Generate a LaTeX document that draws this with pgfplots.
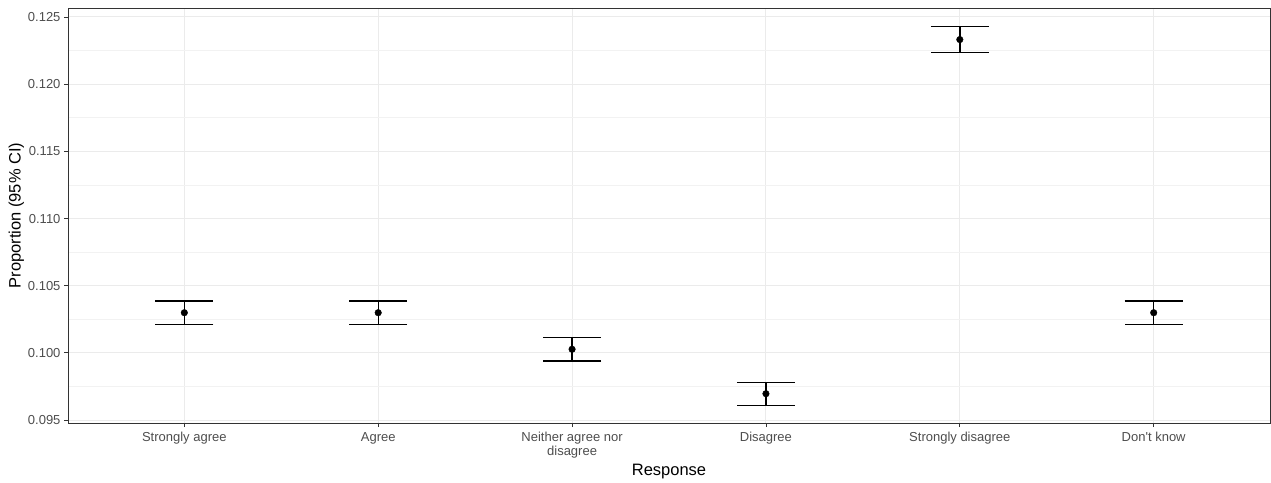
\documentclass[border=0pt]{standalone}
\usepackage{fontspec}
\setmainfont{Liberation Sans}[Ligatures=TeXOff]
\usepackage{pgfplots}
\pgfplotsset{compat=1.18}
\definecolor{gridc}{HTML}{EBEBEB}
\definecolor{gminor}{HTML}{F2F2F2}
\definecolor{framec}{HTML}{333333}
\definecolor{tickc}{HTML}{4D4D4D}
\begin{document}
\begin{tikzpicture}
\begin{axis}[
  scale only axis,
  width=1202pt, height=415pt,
  xmin=-0.6, xmax=5.6,
  ymin=0.09478, ymax=0.12567,
  xtick={0,1,2,3,4,5},
  xticklabels={Strongly agree, Agree, {Neither agree nor\\disagree}, Disagree, Strongly disagree, Don't know},
  x tick label style={align=center, font=\fontsize{13}{13.5}\selectfont, text=tickc, yshift=-2pt},
  ytick={0.095,0.100,0.105,0.110,0.115,0.120,0.125},
  yticklabels={0.095,0.100,0.105,0.110,0.115,0.120,0.125},
  minor ytick={0.0975,0.1025,0.1075,0.1125,0.1175,0.1225},
  y tick label style={font=\fontsize{13}{14}\selectfont, text=tickc},
  /pgf/number format/assume math mode=true,
  tick align=outside,
  major tick length=4pt,
  minor tick length=0pt,
  tick style={framec, line width=0.8pt},
  xtick pos=bottom, ytick pos=left,
  grid=major,
  major grid style={gridc, line width=1pt},
  minor grid style={gminor, line width=0.6pt},
  ymajorgrids, xmajorgrids, yminorgrids,
  axis line style={framec, line width=0.8pt},
  xlabel={Response},
  ylabel={Proportion (95\% CI)},
  label style={font=\fontsize{16.5}{18}\selectfont},
  xlabel style={yshift=1pt},
  ylabel style={yshift=-3pt},
]
\addplot[only marks, mark=*, mark size=3.3pt, black,
  error bars/.cd, y dir=both, y explicit,
  error bar style={black, line width=1.4pt},
  error mark options={black, line width=1.4pt, mark size=29pt, rotate=90}]
coordinates {
  (0,0.10299) += (0,0.00087) -= (0,0.00089)
  (1,0.10299) += (0,0.00087) -= (0,0.00089)
  (2,0.10027) += (0,0.00087) -= (0,0.00087)
  (3,0.09696) += (0,0.00084) -= (0,0.00086)
  (4,0.12332) += (0,0.00097) -= (0,0.00097)
  (5,0.10299) += (0,0.00087) -= (0,0.00089)
};
\end{axis}
\path (current axis.north east) ++(1pt,8pt);
\path (current axis.south west) ++(-68pt,-59pt);
\end{tikzpicture}
\end{document}
